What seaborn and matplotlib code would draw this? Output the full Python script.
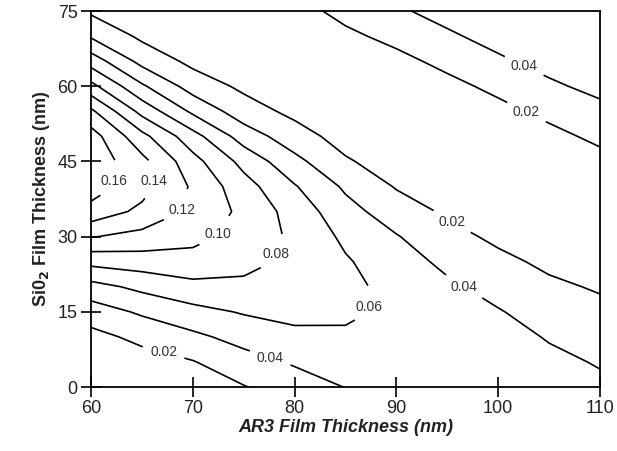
import numpy as np
import matplotlib
matplotlib.use("Agg")
import matplotlib.pyplot as plt
import seaborn as sns

# AR3 film thickness (x) and SiO2 film thickness (y) grid, nm
ar3_nm = [60, 65, 70, 75, 80, 85, 90, 95, 100, 105, 110]
sio2_nm = [0, 5, 10, 15, 20, 25, 30, 35, 40, 45, 50, 55, 60, 65, 70, 75]

# reflectance, one row per SiO2 thickness
reflect = [
    [0.002, 0.005, 0.0095, 0.019, 0.030, 0.0405, 0.046, 0.046, 0.046, 0.045, 0.0425],
    [0.007, 0.012, 0.019, 0.0324, 0.0423, 0.048, 0.051, 0.049, 0.046, 0.043, 0.039],
    [0.014, 0.025, 0.0357, 0.0469, 0.055, 0.057, 0.055, 0.050, 0.045, 0.039, 0.032],
    [0.030, 0.043, 0.0537, 0.0617, 0.066, 0.0635, 0.056, 0.048, 0.0413, 0.0314, 0.0249],
    [0.053, 0.065, 0.0747, 0.0756, 0.072, 0.065, 0.054, 0.0435, 0.033, 0.0236, 0.018],
    [0.086, 0.090, 0.0923, 0.086, 0.0755, 0.062, 0.049, 0.0353, 0.0247, 0.016, 0.011],
    [0.121, 0.114, 0.106, 0.093, 0.076, 0.056, 0.0412, 0.0263, 0.016, 0.009, 0.006],
    [0.153, 0.135, 0.116, 0.095, 0.072, 0.047, 0.0298, 0.017, 0.009, 0.004, 0.003],
    [0.170, 0.148, 0.117, 0.088, 0.0615, 0.0368, 0.0185, 0.010, 0.004, 0.003, 0.005],
    [0.173, 0.146, 0.107, 0.0737, 0.0456, 0.0223, 0.010, 0.005, 0.003, 0.007, 0.0135],
    [0.169, 0.126, 0.0876, 0.0507, 0.0286, 0.012, 0.005, 0.003, 0.007, 0.014, 0.0248],
    [0.144, 0.0935, 0.056, 0.029, 0.015, 0.006, 0.003, 0.006, 0.014, 0.0255, 0.0352],
    [0.106, 0.063, 0.0312, 0.016, 0.007, 0.003, 0.006, 0.014, 0.0253, 0.037, 0.045],
    [0.071, 0.0336, 0.015, 0.008, 0.003, 0.006, 0.014, 0.0258, 0.0373, 0.046, 0.051],
    [0.0375, 0.016, 0.006, 0.004, 0.005, 0.0155, 0.0261, 0.0374, 0.046, 0.052, 0.055],
    [0.0167, 0.008, 0.003, 0.006, 0.012, 0.0265, 0.0375, 0.046, 0.051, 0.055, 0.057],
]
levels = [0.02, 0.04, 0.06, 0.08, 0.10, 0.12, 0.14, 0.16]

x_ticks = [60, 70, 80, 90, 100, 110]
y_ticks = [0, 15, 30, 45, 60, 75]

# where the contour labels sit in the reference
label_spots = [
    (62.5, 41.0), (66.6, 41.3), (69.0, 35.3), (72.6, 30.3), (78.4, 26.3),
    (87.8, 16.0), (96.6, 19.9), (95.6, 33.5), (77.7, 6.4), (67.2, 7.4),
    (102.4, 63.4), (102.6, 54.1),
]

sns.set_theme(style="white")
plt.rcParams["font.family"] = ["Liberation Sans", "DejaVu Sans"]

fig = plt.figure(figsize=(6.17, 4.51), dpi=100)
ax = fig.add_axes([0.1475, 0.1419, 0.825, 0.8337])

X, Y = np.meshgrid(ar3_nm, sio2_nm)
Z = np.array(reflect)
cs = ax.contour(X, Y, Z, levels=levels, colors="black", linewidths=1.2)
labels = ax.clabel(cs, fmt="%.2f", fontsize=10, colors="#333333", inline=True,
                   inline_spacing=8, manual=label_spots)
# reference prints all labels level
for t in labels:
    t.set_rotation(0)

ax.set_xlim(60, 110)
ax.set_ylim(0, 75)
ax.set_xticks(x_ticks)
ax.set_yticks(y_ticks)
ax.tick_params(bottom=True, left=True, direction="inout", length=15, width=1.2,
               colors="black", labelsize=13, labelcolor="#222222", pad=2)
for side in ["top", "right", "left", "bottom"]:
    ax.spines[side].set_visible(True)
    ax.spines[side].set_color("black")
    ax.spines[side].set_linewidth(1.3)

ax.set_xlabel("AR3 Film Thickness (nm)", fontsize=13, fontweight="bold",
              fontstyle="italic", color="#222222", labelpad=1)
ax.set_ylabel("Si0$_\\mathbf{2}$ Film Thickness (nm)", fontsize=13,
              fontweight="bold", color="#222222", labelpad=4)

fig.savefig("out.png", dpi=100)
